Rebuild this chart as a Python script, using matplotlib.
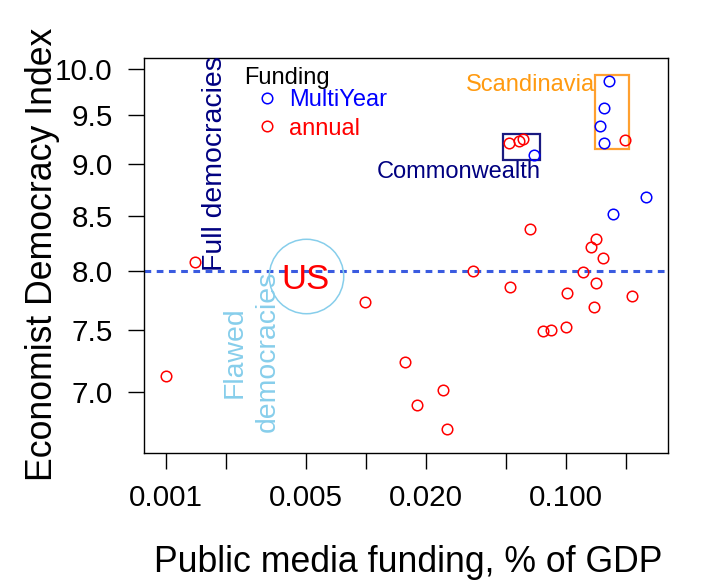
import matplotlib
matplotlib.use("Agg")
import matplotlib.pyplot as plt
from matplotlib.lines import Line2D
from matplotlib.patches import Rectangle

plt.rcParams['font.family'] = ['Liberation Sans', 'DejaVu Sans']

# public media funding (% of GDP) vs Economist democracy index
annual_funding = [0.001, 0.00139, 0.0099, 0.0157, 0.0244, 0.018, 0.0254, 0.0343,
                  0.0525, 0.0658, 0.0767, 0.0844, 0.100, 0.101, 0.122, 0.133,
                  0.142, 0.142, 0.138, 0.153, 0.215,
                  0.0517, 0.0582, 0.0612, 0.197]
annual_index = [7.13, 8.08, 7.73, 7.24, 7.02, 6.90, 6.72, 8.00,
                7.86, 8.38, 7.49, 7.50, 7.52, 7.81, 7.99, 8.22,
                8.29, 7.90, 7.69, 8.12, 7.78,
                9.22, 9.24, 9.26, 9.25]
multiyear_funding = [0.0694, 0.165, 0.154, 0.148, 0.154, 0.172, 0.251]
multiyear_index = [9.09, 9.87, 9.58, 9.39, 9.22, 8.52, 8.68]

us_funding = 0.005
us_index = 7.957
full_democracy = 8.0

# group boxes: (x0, x1, y0, y1)
commonwealth_box = (0.0484, 0.0744, 9.045, 9.31)
scandinavia_box = (0.1396, 0.2073, 9.152, 9.934)

x_ticks = [0.001, 0.002, 0.005, 0.01, 0.02, 0.05, 0.1, 0.2]
x_labels = ['0.001', '', '0.005', '', '0.020', '', '0.100', '']
y_ticks = [7.0, 7.5, 8.0, 8.5, 9.0, 9.5, 10.0]
y_labels = ['7.0', '7.5', '8.0', '8.5', '9.0', '9.5', '10.0']

W, H = 726, 583
fig = plt.figure(figsize=(W / 100, H / 100), dpi=100)
ax = fig.add_axes([144 / W, 1 - 453 / H, 524 / W, 395.3 / H])
ax.set_xscale('log')
ax.set_yscale('log')

ax.axhline(full_democracy, color='#3a5be0', lw=2.2, dashes=(2.2, 1.8), zorder=1)

mk = dict(marker='o', ms=7.6, mfc='none', mew=1.1, ls='none')
ax.plot(annual_funding, annual_index, mec='red', **mk)
ax.plot(multiyear_funding, multiyear_index, mec='blue', **mk)

# US marker
ax.plot([us_funding], [us_index], marker='o', ms=53.6, mfc='none', mec='#87ceeb', mew=1.1)
ax.text(us_funding, 7.93, 'US', color='red', fontsize=25, ha='center', va='center')

# boxes
x0, x1, y0, y1 = commonwealth_box
ax.add_patch(Rectangle((x0, y0), x1 - x0, y1 - y0, fill=False, ec='#1a1a80', lw=1.6))
ax.text(x1, 8.93, 'Commonwealth', color='#000080', fontsize=17, ha='right', va='center')
x0, x1, y0, y1 = scandinavia_box
ax.add_patch(Rectangle((x0, y0), x1 - x0, y1 - y0, fill=False, ec='#ffa030', lw=1.6))
ax.text(x0, 9.82, 'Scandinavia', color='#ff9a10', fontsize=17, ha='right', va='center')

# region labels
ax.text(0.00176, full_democracy, 'Full democracies', color='#000080', fontsize=20.4,
        rotation=90, ha='center', va='bottom')
ax.text(0.00266, full_democracy, 'Flawed\ndemocracies', color='#87ceeb', fontsize=20.4,
        rotation=90, ha='center', va='top', multialignment='center', linespacing=1.35)

ax.set_xlim(0.000776, 0.3236)
ax.set_ylim(6.546, 10.125)
ax.set_xticks(x_ticks)
ax.set_xticklabels(x_labels)
ax.set_yticks(y_ticks)
ax.set_yticklabels(y_labels)
ax.minorticks_off()
ax.tick_params(direction='out', length=11.5, width=1.0, pad=11, labelsize=21.3)
for s in ax.spines.values():
    s.set_linewidth(1.0)

# legend
handles = [Line2D([], [], mec='blue', **mk), Line2D([], [], mec='red', **mk)]
ax.legend(handles, ['MultiYear', 'annual'], labelcolor=['blue', 'red'], fontsize=17,
          frameon=False, loc='upper left', bbox_to_anchor=(0.2122, 0.921),
          borderpad=0, borderaxespad=0, handlelength=1.0, handletextpad=0.43,
          labelspacing=0.28)
ax.text(0.192, 0.9327, 'Funding', transform=ax.transAxes, fontsize=17, va='baseline')

fig.text(408 / W, 1 - 563 / H, 'Public media funding, % of GDP', fontsize=25.7,
         ha='center', va='center')
fig.text(43 / W, 1 - 254.5 / H, 'Economist Democracy Index', fontsize=25.7,
         rotation=90, ha='center', va='center')

fig.savefig('out.png', dpi=100)
